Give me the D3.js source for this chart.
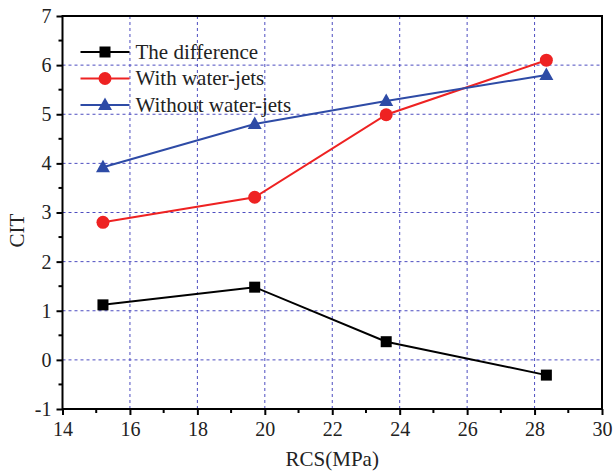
<!DOCTYPE html>
<html>
<head>
<meta charset="utf-8">
<script src="https://cdn.jsdelivr.net/npm/d3@7"></script>
</head>
<body style="margin:0">
<div id="chart"></div>
<script>
const rcs = [15.2, 19.7, 23.6, 28.35];
const difference = [1.12, 1.48, 0.37, -0.31];
const withJets = [2.80, 3.31, 4.99, 6.10];
const withoutJets = [3.92, 4.80, 5.27, 5.80];
const seriesNames = ["The difference", "With water-jets", "Without water-jets"];
const xTicks = [14, 16, 18, 20, 22, 24, 26, 28, 30];
const yTicks = [-1, 0, 1, 2, 3, 4, 5, 6, 7];

const width = 614, height = 471;
const margin = { top: 16, right: 12, bottom: 62, left: 62.5 };
const innerW = width - margin.left - margin.right;
const innerH = height - margin.top - margin.bottom;
const fontFamily = "Liberation Serif";

const svg = d3.select("#chart").append("svg")
    .attr("width", width)
    .attr("height", height);

const g = svg.append("g")
    .attr("transform", `translate(${margin.left},${margin.top})`);

const x = d3.scaleLinear().domain([14, 30]).range([0, innerW]);
const y = d3.scaleLinear().domain([-1, 7]).range([innerH, 0]);

// dashed grid
const gridColor = "#4d4dc0";
g.append("g").selectAll("line")
    .data(xTicks.slice(1, -1))
    .join("line")
    .attr("x1", d => x(d)).attr("x2", d => x(d))
    .attr("y1", 0).attr("y2", innerH)
    .attr("stroke", gridColor).attr("stroke-width", 1)
    .attr("stroke-dasharray", "3,3");
g.append("g").selectAll("line")
    .data(yTicks.slice(1, -1))
    .join("line")
    .attr("y1", d => y(d)).attr("y2", d => y(d))
    .attr("x1", 0).attr("x2", innerW)
    .attr("stroke", gridColor).attr("stroke-width", 1)
    .attr("stroke-dasharray", "3,3");

// axes
const xAxis = d3.axisBottom(x).tickValues(xTicks).tickSize(6).tickPadding(7).tickFormat(d => String(d));
const yAxis = d3.axisLeft(y).tickValues(yTicks).tickSize(6).tickPadding(5).tickFormat(d => String(d));

const xg = g.append("g").attr("transform", `translate(0,${innerH})`).call(xAxis);
const yg = g.append("g").call(yAxis);
[xg, yg].forEach(a => {
    a.attr("font-family", fontFamily);
    a.select(".domain").remove();
    a.selectAll("line").attr("stroke", "#000").attr("stroke-width", 2);
    a.selectAll("text")
        .attr("font-family", fontFamily)
        .attr("font-size", 20)
        .attr("fill", "#222");
});

// minor ticks
g.append("g").selectAll("line")
    .data(d3.range(15, 30, 2))
    .join("line")
    .attr("x1", d => x(d)).attr("x2", d => x(d))
    .attr("y1", innerH).attr("y2", innerH + 4)
    .attr("stroke", "#000").attr("stroke-width", 2);
g.append("g").selectAll("line")
    .data(d3.range(-0.5, 7, 1))
    .join("line")
    .attr("y1", d => y(d)).attr("y2", d => y(d))
    .attr("x1", 0).attr("x2", -4)
    .attr("stroke", "#000").attr("stroke-width", 2);

// frame
g.append("rect")
    .attr("width", innerW).attr("height", innerH)
    .attr("fill", "none").attr("stroke", "#000").attr("stroke-width", 2);

// series
const series = [
    { name: seriesNames[0], values: difference, color: "#000000", shape: "square" },
    { name: seriesNames[1], values: withJets, color: "#ee2222", shape: "circle" },
    { name: seriesNames[2], values: withoutJets, color: "#2e4ba6", shape: "triangle" }
];

const line = d3.line().x(d => x(d[0])).y(d => y(d[1]));

function drawMarker(sel, shape, color) {
    if (shape === "square") {
        sel.append("rect").attr("x", -5.5).attr("y", -5.5).attr("width", 11).attr("height", 11).attr("fill", color);
    } else if (shape === "circle") {
        sel.append("circle").attr("r", 6.5).attr("fill", color);
    } else {
        sel.append("path").attr("d", "M0,-7.5L7,5L-7,5Z").attr("fill", color);
    }
}

series.forEach(s => {
    const pts = rcs.map((r, i) => [r, s.values[i]]);
    g.append("path")
        .datum(pts)
        .attr("d", line)
        .attr("fill", "none")
        .attr("stroke", s.color)
        .attr("stroke-width", 2);
    pts.forEach(p => {
        const m = g.append("g").attr("transform", `translate(${x(p[0])},${y(p[1])})`);
        drawMarker(m, s.shape, s.color);
    });
});

// legend
const legend = g.append("g").attr("transform", "translate(18,36)");
series.forEach((s, i) => {
    const row = legend.append("g").attr("transform", `translate(0,${i * 26.5})`);
    row.append("line").attr("x1", 0).attr("x2", 49).attr("stroke", s.color).attr("stroke-width", 2);
    drawMarker(row.append("g").attr("transform", "translate(24.5,0)"), s.shape, s.color);
    row.append("text")
        .attr("x", 55).attr("y", 6.5)
        .attr("font-family", fontFamily).attr("font-size", 21).attr("fill", "#222")
        .text(s.name);
});

// axis titles
svg.append("text")
    .attr("x", margin.left + innerW / 2).attr("y", height - 5)
    .attr("text-anchor", "middle")
    .attr("font-family", fontFamily).attr("font-size", 21).attr("fill", "#222")
    .text("RCS(MPa)");
svg.append("text")
    .attr("transform", `translate(24,${margin.top + innerH / 2 + 18}) rotate(-90)`)
    .attr("text-anchor", "middle")
    .attr("font-family", fontFamily).attr("font-size", 21).attr("fill", "#222")
    .text("CIT");
</script>
</body>
</html>
